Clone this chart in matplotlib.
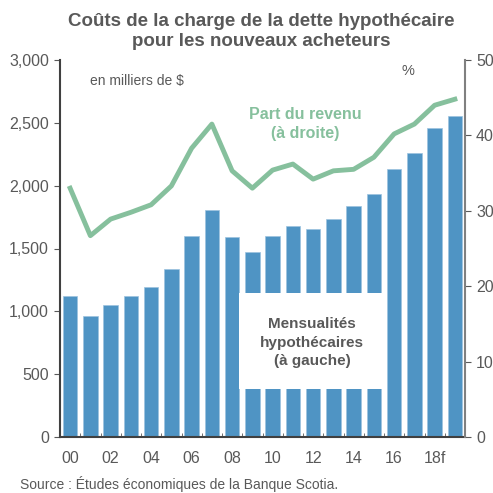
import matplotlib
matplotlib.use('Agg')
import matplotlib.pyplot as plt
import numpy as np

plt.rcParams['font.family'] = ['Liberation Sans', 'DejaVu Sans']

# Données
annees = ['00', '01', '02', '03', '04', '05', '06', '07', '08', '09',
          '10', '11', '12', '13', '14', '15', '16', '17', '18f', '19f']
mensualites = [1125, 960, 1050, 1120, 1190, 1340, 1600, 1810, 1595, 1470,
               1600, 1680, 1655, 1735, 1840, 1935, 2135, 2260, 2460, 2555]
part_revenu = [33.0, 26.7, 28.9, 29.8, 30.8, 33.3, 38.3, 41.5, 35.3, 33.0,
               35.4, 36.2, 34.2, 35.3, 35.5, 37.1, 40.2, 41.5, 44.0, 44.8]
etiquettes_x = ['00', '02', '04', '06', '08', '10', '12', '14', '16', '18f']

bleu = '#4f94c4'
vert = '#86c09d'
gris = '#595959'

fig = plt.figure(figsize=(4.93, 4.93), dpi=100)
ax = fig.add_axes([60/493, 56/493, 405/493, 377/493])
x = np.arange(len(annees))

ax.bar(x, mensualites, width=0.72, color=bleu, edgecolor='#9cc3df', linewidth=0.5, zorder=2)
ax.set_xlim(-0.5, len(annees) - 0.5)
ax.set_ylim(0, 3000)
ax.set_yticks([0, 500, 1000, 1500, 2000, 2500, 3000])
ax.set_yticklabels(['0', '500', '1,000', '1,500', '2,000', '2,500', '3,000'])

# etiquettes tous les 2 ans, petites marques entre les barres
ax.set_xticks(x[::2])
ax.set_xticklabels(etiquettes_x)
ax.set_xticks(np.arange(-0.5, len(annees) + 0.5, 1), minor=True)
ax.tick_params(axis='x', which='major', length=0, pad=10, labelsize=11.5, colors=gris)
ax.tick_params(axis='x', which='minor', direction='in', length=3, color=gris)
ax.tick_params(axis='y', direction='out', length=4, labelsize=11.5, colors=gris, pad=4)

ax.spines['top'].set_visible(False)
ax.spines['right'].set_visible(False)
ax.spines['left'].set_color('#404040')
ax.spines['bottom'].set_color('#404040')
ax.spines['left'].set_linewidth(1.5)
ax.spines['bottom'].set_linewidth(1.5)

# boite blanche avec l'etiquette des barres
ax.add_patch(plt.Rectangle((8.35, 385), 7.2, 760, facecolor='white', edgecolor='none', zorder=3))
ax.text(11.95, 750, 'Mensualités\nhypothécaires\n(à gauche)', ha='center', va='center',
        fontsize=11, fontweight='bold', color=gris, zorder=4, linespacing=1.4)

ax.text(1.0, 2830, 'en milliers de $', fontsize=10, color=gris, va='center')

ax2 = ax.twinx()
ax2.plot(x, part_revenu, color=vert, linewidth=3.5, zorder=5)
ax2.set_ylim(0, 50)
ax2.set_yticks([0, 10, 20, 30, 40, 50])
ax2.tick_params(axis='y', direction='out', length=4, labelsize=11.5, colors=gris, pad=4)
for s in ['top', 'left', 'bottom']:
    ax2.spines[s].set_visible(False)
ax2.spines['right'].set_color('#808080')
ax2.spines['right'].set_linewidth(1.5)
ax2.text(16.7, 48.6, '%', fontsize=10.5, color=gris, ha='center', va='center')
ax2.text(11.6, 41.5, 'Part du revenu\n(à droite)', fontsize=11.5, fontweight='bold', color=vert,
         ha='center', va='center', linespacing=1.3)

fig.text(0.53, 0.936, 'Coûts de la charge de la dette hypothécaire\npour les nouveaux acheteurs',
         ha='center', va='center', fontsize=13.5, fontweight='bold', color=gris, linespacing=1.2)
fig.text(20/493, 9/493, 'Source : Études économiques de la Banque Scotia.', fontsize=10, color=gris, va='center')

fig.savefig('out.png', dpi=100)
